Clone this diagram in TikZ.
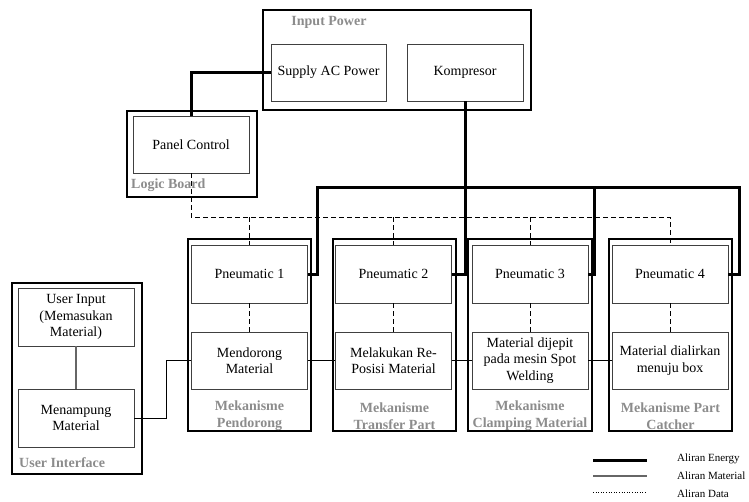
\documentclass[tikz,border=0pt]{standalone}
\usepackage{fontspec}
\setmainfont{Liberation Serif}
\usepackage{tikz}
\usetikzlibrary{shapes, arrows.meta, positioning}

\begin{document}
\begin{tikzpicture}[x=1pt, y=-1pt,
  box/.style={draw=black!75, line width=0.8pt, minimum width=116pt, minimum height=57pt,
              align=center, inner sep=2pt, font=\fontsize{14}{16.5}\selectfont},
  frame/.style={draw=black, line width=1.3pt, inner sep=0pt},
  grouplabel/.style={text=black!45, align=center, inner sep=0pt,
              font=\fontsize{14}{17}\selectfont\bfseries},
  energy/.style={line width=3pt},
  material/.style={line width=0.9pt},
  matgray/.style={draw=black!60, line width=1.2pt},
  data/.style={line width=0.7pt, dash pattern=on 5pt off 3pt},
  legendtext/.style={anchor=west, inner sep=0pt, font=\fontsize{11}{13}\selectfont}]
  \useasboundingbox (0,0) rectangle (749,501);

  % outer frames
  \node[frame, minimum width=268pt, minimum height=100pt] (inpow) at (397,60) {};
  \node[frame, minimum width=130pt, minimum height=86pt] (logic) at (192,154) {};
  \node[frame, minimum width=130pt, minimum height=191pt] (uiface) at (77,378.5) {};
  \node[frame, minimum width=123pt, minimum height=192pt] (mek1) at (249.5,335) {};
  \node[frame, minimum width=123pt, minimum height=192pt] (mek2) at (394.5,335) {};
  \node[frame, minimum width=124pt, minimum height=192pt] (mek3) at (530,335) {};
  \node[frame, minimum width=123pt, minimum height=192pt] (mek4) at (670.5,335) {};

  % group labels
  \node[grouplabel] at (329,22) {Input Power};
  \node[grouplabel, anchor=west] at (131,185) {Logic Board};
  \node[grouplabel, anchor=west] at (19,463) {User Interface};
  \node[grouplabel] at (249.5,416) {Mekanisme\\Pendorong};
  \node[grouplabel] at (394.5,416) {Mekanisme\\Transfer Part};
  \node[grouplabel] at (530,416) {Mekanisme\\Clamping Material};
  \node[grouplabel] at (670.5,416) {Mekanisme Part\\Catcher};

  % blocks
  \node[box, minimum width=115pt] (supply) at (328.5,72.5) {Supply AC Power};
  \node[box] (kompr) at (465,72.5) {Kompresor};
  \node[box] (panel) at (191,144.5) {Panel Control};
  \node[box, minimum height=58pt] (userin) at (76,317) {User Input\\(Memasukan\\Material)};
  \node[box, minimum height=58pt] (menam) at (76,418) {Menampung\\Material};

  \node[box, minimum height=58pt] (pn1) at (249.5,274) {Pneumatic 1};
  \node[box, minimum height=58pt] (pn2) at (393.5,274) {Pneumatic 2};
  \node[box, minimum height=58pt] (pn3) at (530,274) {Pneumatic 3};
  \node[box, minimum height=58pt] (pn4) at (670,274) {Pneumatic 4};

  \node[box] (proc1) at (249.5,360.5) {Mendorong\\Material};
  \node[box] (proc2) at (393.5,360.5) {Melakukan Re-\\Posisi Material};
  \node[box] (proc3) at (530,360.5) {Material dijepit\\pada mesin Spot\\Welding};
  \node[box] (proc4) at (670,360.5) {Material dialirkan\\menuju box};

  % energy
  \coordinate (busL) at (317,187);
  \coordinate (busR) at (739,187);
  \coordinate (bus3) at (594,187);
  \draw[energy] (supply.west) -| (panel.north);
  \draw[energy] (kompr.south) |- (pn2.east);
  \draw[energy] (pn1.east) -| (busL) -- (busR) |- (pn4.east);
  \draw[energy] (pn3.east) -| (bus3);

  % data
  \coordinate (dataL) at (191,217);
  \draw[data] (panel.south) -- (dataL) -- (pn4.north |- dataL) -- (pn4.north);
  \draw[data] (pn1.north |- dataL) -- (pn1.north);
  \draw[data] (pn2.north |- dataL) -- (pn2.north);
  \draw[data] (pn3.north |- dataL) -- (pn3.north);
  \draw[data] (pn1) -- (proc1);
  \draw[data] (pn2) -- (proc2);
  \draw[data] (pn3) -- (proc3);
  \draw[data] (pn4) -- (proc4);

  % material
  \draw[matgray] (userin) -- (menam);
  \draw[material] (menam.east) -- ++(32,0) |- (proc1.west);
  \draw[material] (proc1) -- (proc2);
  \draw[material] (proc2) -- (proc3);
  \draw[material] (proc3) -- (proc4);

  % legend
  \draw[energy] (593,460) -- (647,460);
  \draw[matgray] (593,476) -- (647,476);
  \draw[line width=0.6pt, dotted] (593,492) -- (647,492);
  \node[legendtext] at (677,459) {Aliran Energy};
  \node[legendtext] at (677,476) {Aliran Material};
  \node[legendtext] at (677,494) {Aliran Data};
\end{tikzpicture}
\end{document}
